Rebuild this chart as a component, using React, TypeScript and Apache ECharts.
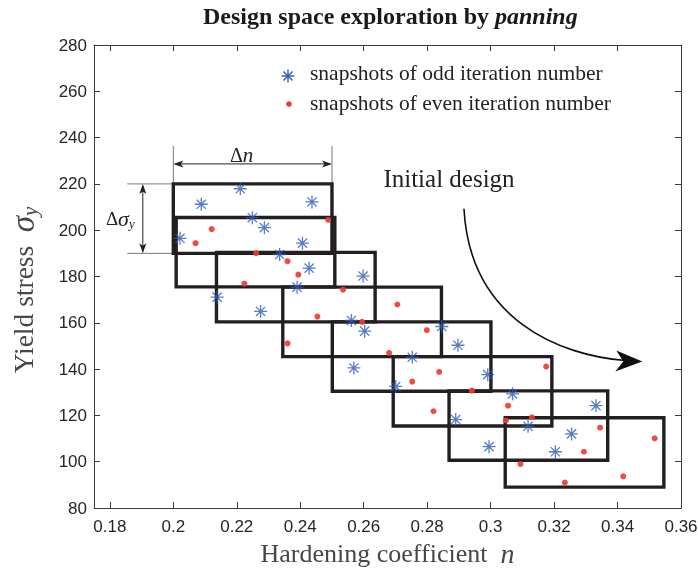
import React, { useEffect, useRef } from "react";
import * as echarts from "echarts";

// ---- data ----
const xTicks = [0.18, 0.2, 0.22, 0.24, 0.26, 0.28, 0.3, 0.32, 0.34, 0.36];

// snapshots of odd iteration number (hardening coefficient n, yield stress)
const oddN = [0.2211, 0.2088, 0.2437, 0.2249, 0.2287, 0.2021, 0.2407, 0.2335, 0.2428, 0.2598, 0.2138, 0.239, 0.2275, 0.2561, 0.2603, 0.2846, 0.2897, 0.2753, 0.2569, 0.2991, 0.2701, 0.3069, 0.289, 0.3118, 0.2995, 0.3332, 0.3255, 0.3204];
const oddS = [217.9, 211.2, 212.2, 205.4, 201.1, 196.5, 194.4, 189.5, 183.6, 180.2, 171.1, 175.4, 164.9, 161.0, 156.4, 158.4, 150.3, 145.1, 140.5, 137.6, 132.5, 129.3, 118.2, 115.3, 106.5, 124.2, 112.0, 104.3];

// snapshots of even iteration number
const evenN = [0.2121, 0.207, 0.2488, 0.2261, 0.236, 0.2394, 0.2224, 0.2535, 0.2706, 0.2454, 0.2595, 0.236, 0.2799, 0.268, 0.2838, 0.2753, 0.3175, 0.2941, 0.282, 0.3055, 0.313, 0.3048, 0.3094, 0.3345, 0.3294, 0.3517, 0.3418, 0.3234];
const evenS = [200.5, 194.4, 204.5, 190.1, 186.6, 180.8, 176.9, 174.3, 167.9, 162.7, 160.4, 151.1, 156.8, 147.0, 138.8, 134.6, 141.1, 130.7, 121.8, 124.2, 119.2, 117.8, 99.0, 114.7, 104.3, 110.1, 93.7, 91.0];

// panning windows (lower-left corner), each Δn wide and Δσ tall
const boxLeftN = [0.2, 0.2009, 0.2136, 0.2345, 0.2501, 0.2693, 0.2869, 0.3046];
const boxBottomS = [190, 175.5, 160.4, 145.4, 130.4, 115.4, 100.6, 89];
const boxWidthN = 0.05;
const boxHeightS = 30;

// annotation anchors (data space)
const initialLabelAt = [0.2662, 222.4];
const arcPoints = [
  [0.2916, 209.3],
  [0.2935, 161.0],
  [0.322, 145.9],
  [0.3425, 143.7],
];
const arrowTipAt = [0.3478, 143.3];

const SERIF = "'Liberation Serif', 'Times New Roman', serif";
const SANS = "'Liberation Sans', Arial, Helvetica, sans-serif";
const BLUE = "#2F5BB7";
const RED = "#EE3B33";
const INK = "#231F20";
const NAME = "#474747";

const ASTERISK =
  "path://M-7,-0.7L7,-0.7L7,0.7L-7,0.7Z" +
  "M0.7,-7L0.7,7L-0.7,7L-0.7,-7Z" +
  "M-4.455,-5.445L5.445,4.455L4.455,5.445L-5.445,-4.455Z" +
  "M-5.445,4.455L4.455,-5.445L5.445,-4.455L-4.455,5.445Z";

const fmt = (v: number) => String(Number(v.toFixed(2)));

export default function App() {
  const ref = useRef<HTMLDivElement>(null);

  useEffect(() => {
    const chart = echarts.init(ref.current!, null, { renderer: "svg" });

    const boxSeries = boxLeftN.map((n0, i) => {
      const s0 = boxBottomS[i];
      const n1 = n0 + boxWidthN;
      const s1 = s0 + boxHeightS;
      return {
        type: "line",
        name: "window" + i,
        data: [
          [n0, s0],
          [n1, s0],
          [n1, s1],
          [n0, s1],
          [n0, s0],
        ],
        symbol: "none",
        silent: true,
        z: 2,
        lineStyle: { color: INK, width: 3.4, cap: "square", join: "miter" },
      };
    });

    const axisLineStyle = { color: "#3a3a3a", width: 1 };

    chart.setOption({
      animation: false,
      title: {
        text: "{a|Design space exploration by }{b|panning}",
        left: 203,
        top: 4,
        padding: 0,
        textStyle: {
          rich: {
            a: { fontFamily: SERIF, fontSize: 24, fontWeight: "bold", color: "#1a1a1a" },
            b: { fontFamily: SERIF, fontSize: 24, fontWeight: "bold", fontStyle: "italic", color: "#1a1a1a" },
          },
        },
      },
      grid: { left: 94, right: 17, top: 45, bottom: 60, containLabel: false, outerBoundsMode: "none" },
      xAxis: [
        {
          type: "value",
          min: 0.175,
          max: 0.36,
          position: "bottom",
          name: "{a|Hardening coefficient}  {b|n}",
          nameLocation: "middle",
          nameGap: 25,
          nameTextStyle: {
            fontFamily: SERIF,
            fontSize: 26,
            lineHeight: 26,
            color: NAME,
            rich: {
              a: { fontFamily: SERIF, fontSize: 26, lineHeight: 26, color: NAME },
              b: { fontFamily: SERIF, fontSize: 28, lineHeight: 26, fontStyle: "italic", color: NAME },
            },
          },
          axisLine: { show: true, onZero: false, lineStyle: axisLineStyle },
          axisTick: { show: true, inside: true, length: 6, customValues: xTicks, lineStyle: axisLineStyle },
          axisLabel: {
            show: true,
            customValues: xTicks,
            formatter: (v: number) => fmt(v),
            margin: 10,
            fontFamily: SANS,
            fontSize: 17,
            color: "#262626",
          },
          splitLine: { show: false },
        },
        {
          type: "value",
          min: 0.175,
          max: 0.36,
          position: "top",
          axisLine: { show: true, onZero: false, lineStyle: axisLineStyle },
          axisTick: { show: true, inside: true, length: 6, customValues: xTicks, lineStyle: axisLineStyle },
          axisLabel: { show: false },
          splitLine: { show: false },
        },
      ],
      yAxis: [
        {
          type: "value",
          min: 80,
          max: 280,
          interval: 20,
          position: "left",
          name: "{a|Yield stress}  {b|σ}{c|y}",
          nameLocation: "middle",
          nameGap: 54,
          nameTextStyle: {
            fontFamily: SERIF,
            fontSize: 27,
            color: NAME,
            padding: [0, 27, 0, 0],
            rich: {
              a: { fontFamily: SERIF, fontSize: 27.5, color: NAME },
              b: { fontFamily: SERIF, fontSize: 33, fontStyle: "italic", color: NAME },
              c: { fontFamily: SERIF, fontSize: 21, fontStyle: "italic", color: NAME, padding: [13, 0, 0, 0] },
            },
          },
          axisLine: { show: true, onZero: false, lineStyle: axisLineStyle },
          axisTick: { show: true, inside: true, length: 6, lineStyle: axisLineStyle },
          axisLabel: { show: true, margin: 7, fontFamily: SANS, fontSize: 17, color: "#262626" },
          splitLine: { show: false },
        },
        {
          type: "value",
          min: 80,
          max: 280,
          interval: 20,
          position: "right",
          axisLine: { show: true, onZero: false, lineStyle: axisLineStyle },
          axisTick: { show: true, inside: true, length: 6, lineStyle: axisLineStyle },
          axisLabel: { show: false },
          splitLine: { show: false },
        },
      ],
      series: [
        ...boxSeries,
        {
          type: "scatter",
          name: "snapshots of odd iteration number",
          data: oddN.map((n, i) => [n, oddS[i]]),
          symbol: ASTERISK,
          symbolSize: 13,
          itemStyle: { color: BLUE },
          silent: true,
          z: 5,
        },
        {
          type: "scatter",
          name: "snapshots of even iteration number",
          data: evenN.map((n, i) => [n, evenS[i]]),
          symbol: "circle",
          symbolSize: 6,
          itemStyle: { color: RED, opacity: 0.92 },
          silent: true,
          z: 5,
        },
      ],
    });

    const P = (n: number, s: number) => chart.convertToPixel("grid", [n, s]) as number[];

    // dimension anchors on the first window
    const A0 = P(boxLeftN[0], boxBottomS[0] + boxHeightS);
    const A1 = P(boxLeftN[0] + boxWidthN, boxBottomS[0] + boxHeightS);
    const A2 = P(boxLeftN[0], boxBottomS[0]);
    const dimColor = "#222";
    const extColor = "#777";

    const yArr = A0[1] - 20;
    const xArr = A0[0] - 30.5;

    const L0 = P(initialLabelAt[0], initialLabelAt[1]);
    const C0 = P(arcPoints[0][0], arcPoints[0][1]);
    const C1 = P(arcPoints[1][0], arcPoints[1][1]);
    const C2 = P(arcPoints[2][0], arcPoints[2][1]);
    const C3 = P(arcPoints[3][0], arcPoints[3][1]);
    const T = P(arrowTipAt[0], arrowTipAt[1]);

    const line = (x1: number, y1: number, x2: number, y2: number, stroke: string, w = 1) => ({
      type: "line",
      shape: { x1, y1, x2, y2 },
      style: { stroke, lineWidth: w },
      silent: true,
    });
    const poly = (pts: number[][], fill: string) => ({
      type: "polygon",
      shape: { points: pts },
      style: { fill },
      silent: true,
    });

    const legendX = 288;
    const legendTextX = 310;
    const r = 6.5;
    const r2 = r * 0.7071;

    chart.setOption({
      graphic: [
        // Δn dimension
        line(A0[0], A0[1] - 38, A0[0], A0[1], extColor),
        line(A1[0], A1[1] - 38, A1[0], A1[1], extColor),
        line(A0[0] + 2, yArr, A1[0] - 2, yArr, dimColor),
        poly([[A0[0], yArr], [A0[0] + 10, yArr - 3.5], [A0[0] + 7.5, yArr], [A0[0] + 10, yArr + 3.5]], dimColor),
        poly([[A1[0], yArr], [A1[0] - 10, yArr - 3.5], [A1[0] - 7.5, yArr], [A1[0] - 10, yArr + 3.5]], dimColor),
        {
          type: "text",
          silent: true,
          style: {
            x: (A0[0] + A1[0]) / 2 - 11,
            y: A0[1] - 29,
            text: "{d|Δ}{n|n}",
            align: "center",
            verticalAlign: "middle",
            rich: {
              d: { fontFamily: SERIF, fontSize: 20, fill: "#222" },
              n: { fontFamily: SERIF, fontSize: 21, fontStyle: "italic", fill: "#222" },
            },
          },
        },
        // Δσy dimension
        line(A0[0] - 46, A0[1], A0[0], A0[1], extColor),
        line(A2[0] - 46, A2[1], A2[0], A2[1], extColor),
        line(xArr, A0[1] + 2, xArr, A2[1] - 2, dimColor),
        poly([[xArr, A0[1]], [xArr - 3.5, A0[1] + 10], [xArr, A0[1] + 7.5], [xArr + 3.5, A0[1] + 10]], dimColor),
        poly([[xArr, A2[1]], [xArr - 3.5, A2[1] - 10], [xArr, A2[1] - 7.5], [xArr + 3.5, A2[1] - 10]], dimColor),
        {
          type: "text",
          silent: true,
          style: {
            x: A0[0] - 53,
            y: (A0[1] + A2[1]) / 2,
            text: "{d|Δ}{s|σ}{y|y}",
            align: "center",
            verticalAlign: "middle",
            rich: {
              d: { fontFamily: SERIF, fontSize: 19, fill: "#222" },
              s: { fontFamily: SERIF, fontSize: 22, fontStyle: "italic", fill: "#222" },
              y: { fontFamily: SERIF, fontSize: 13, fontStyle: "italic", fill: "#222", padding: [9, 0, 0, 0] },
            },
          },
        },
        // Initial design + curved arrow
        {
          type: "text",
          silent: true,
          style: {
            x: L0[0],
            y: L0[1],
            text: "Initial design",
            align: "left",
            verticalAlign: "middle",
            fontFamily: SERIF,
            fontSize: 25,
            fill: "#222",
          },
        },
        {
          type: "bezierCurve",
          silent: true,
          shape: {
            x1: C0[0],
            y1: C0[1],
            cpx1: C1[0],
            cpy1: C1[1],
            cpx2: C2[0],
            cpy2: C2[1],
            x2: C3[0],
            y2: C3[1],
          },
          style: { stroke: "#111", lineWidth: 1.6, fill: "none" },
        },
        poly([[T[0], T[1]], [T[0] - 26, T[1] - 11], [T[0] - 19, T[1]], [T[0] - 27, T[1] + 10]], "#111"),
        // legend
        line(legendX - r, 76, legendX + r, 76, BLUE, 1.4),
        line(legendX, 76 - r, legendX, 76 + r, BLUE, 1.4),
        line(legendX - r2, 76 - r2, legendX + r2, 76 + r2, BLUE, 1.4),
        line(legendX - r2, 76 + r2, legendX + r2, 76 - r2, BLUE, 1.4),
        {
          type: "text",
          silent: true,
          style: {
            x: legendTextX,
            y: 73,
            text: "snapshots of odd iteration number",
            align: "left",
            verticalAlign: "middle",
            fontFamily: SERIF,
            fontSize: 21.5,
            fill: "#222",
          },
        },
        {
          type: "circle",
          silent: true,
          shape: { cx: legendX + 1, cy: 104, r: 2.8 },
          style: { fill: RED },
        },
        {
          type: "text",
          silent: true,
          style: {
            x: legendTextX,
            y: 103,
            text: "snapshots of even iteration number",
            align: "left",
            verticalAlign: "middle",
            fontFamily: SERIF,
            fontSize: 21.5,
            fill: "#222",
          },
        },
      ],
    });

    return () => chart.dispose();
  }, []);

  return <div ref={ref} style={{ position: "fixed", left: 0, top: 0, width: 698, height: 568 }} />;
}
